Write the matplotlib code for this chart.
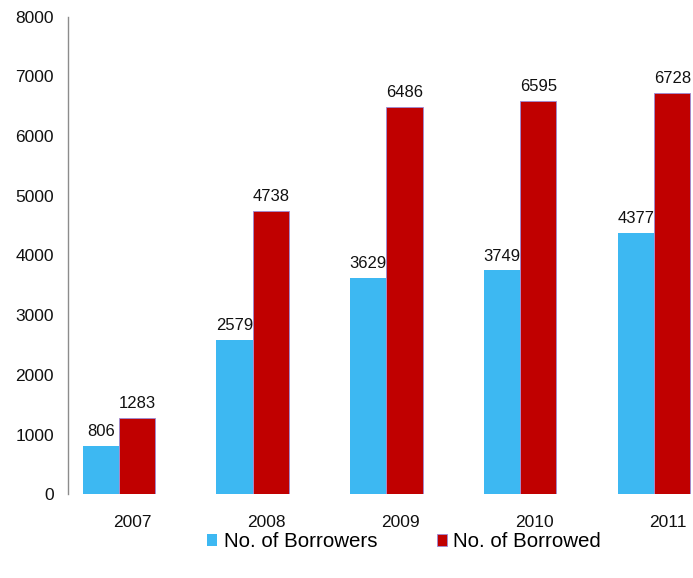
#!/usr/bin/env python3
"""Borrowers vs borrowed items per year, grouped bars."""
import numpy as np
import matplotlib
matplotlib.use('Agg')
import matplotlib.pyplot as plt

years = ['2007', '2008', '2009', '2010', '2011']
borrowers = [806, 2579, 3629, 3749, 4377]
borrowed = [1283, 4738, 6486, 6595, 6728]
series_names = ['No. of Borrowers', 'No. of Borrowed']

plt.rcParams['font.family'] = ['Liberation Sans', 'DejaVu Sans']

fig = plt.figure(figsize=(6.93, 5.78), dpi=100)
ax = fig.add_axes([0.098, 0.145, 0.902, 0.826])

x = np.arange(len(years))
w = 0.27
b1 = ax.bar(x - w / 2, borrowers, w, color='#3DB8F2', label=series_names[0])
b2 = ax.bar(x + w / 2, borrowed, w, color='#C00000', edgecolor='#9A8CD8',
            linewidth=0.6, label=series_names[1])

for bars in (b1, b2):
    for rect in bars:
        h = rect.get_height()
        ax.annotate(f'{int(h)}', (rect.get_x() + rect.get_width() / 2, h),
                    xytext=(0, 5), textcoords='offset points',
                    ha='center', va='bottom', fontsize=12, color='#111111')

ax.set_xlim(-0.38, 4.29)
ax.set_ylim(0, 8000)
ax.set_yticks(range(0, 8001, 1000))
# category labels sit a bit right of the group centre
ax.set_xticks(x + 0.105)
ax.set_xticklabels(years)

ax.tick_params(axis='both', length=0, labelsize=12.5, colors='#111111')
ax.tick_params(axis='y', pad=10)
ax.tick_params(axis='x', pad=15)
for side in ('top', 'right', 'bottom'):
    ax.spines[side].set_visible(False)
ax.spines['left'].set_color('#8C8C8C')
ax.spines['left'].set_linewidth(1.0)

fig.legend(loc='center', bbox_to_anchor=(0.583, 0.063), ncol=2, frameon=False,
           fontsize=14.8, handlelength=0.5, handleheight=0.5, handletextpad=0.3,
           columnspacing=2.9)

plt.savefig('out.png', dpi=100)
